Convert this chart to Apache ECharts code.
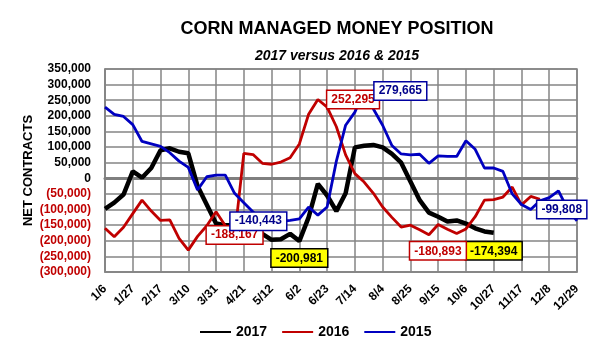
<!DOCTYPE html>
<html><head><meta charset="utf-8">
<script src="https://cdn.jsdelivr.net/npm/echarts@6/dist/echarts.min.js"></script>
<style>html,body{margin:0;padding:0;background:#fff}#c{width:605px;height:348px}</style>
</head><body><div id="c"></div>
<script>
// ---- data ----
const categories = ['1/6','1/13','1/20','1/27','2/3','2/10','2/17','2/24','3/3','3/10','3/17','3/24','3/31',
  '4/7','4/14','4/21','4/28','5/5','5/12','5/19','5/26','6/2','6/9','6/16','6/23','6/30','7/7','7/14','7/21',
  '7/28','8/4','8/11','8/18','8/25','9/1','9/8','9/15','9/22','9/29','10/6','10/13','10/20','10/27','11/3',
  '11/10','11/17','11/24','12/1','12/8','12/15','12/22','12/29'];
const net2017 = [-98000,-78000,-52000,22000,2000,33000,90000,96000,85000,80000,-25000,-85000,-145000,-150000,
  -150000,-155000,-165000,-178000,-197000,-195000,-178000,-200981,-125000,-18000,-55000,-105000,-48000,99000,
  104000,107000,99000,78000,50000,-10000,-70000,-110000,-123000,-138000,-135000,-145000,-160000,-170000,-174394];
const net2016 = [-160000,-187000,-157000,-113000,-70000,-105000,-135000,-133000,-192000,-230000,-186000,-152000,
  -107000,-152000,-188167,80000,76000,48000,45000,52000,66000,110000,205000,252295,228000,165000,75000,15000,
  -12000,-48000,-92000,-125000,-156000,-150000,-165000,-180893,-148000,-163000,-177000,-162000,-123000,-70000,
  -68000,-60000,-28000,-85000,-58000,-67000];
const net2015 = [228000,205000,198000,172000,118000,110000,102000,82000,55000,35000,-37000,5000,10000,10000,
  -48000,-78000,-108000,-140443,-138000,-138000,-135000,-130000,-92000,-118000,-92000,55000,170000,212000,279665,
  222000,170000,105000,78000,75000,77000,48000,72000,70000,70000,120000,93000,33000,33000,22000,-50000,-84000,
  -100000,-72000,-62000,-40000,-99808,-136000];
const yMin = -300000, yMax = 350000, yStep = 50000;
const seriesNames = ['2017','2016','2015'];
// indices of annotated points per series
const calloutIdx2017 = [21, 42];
const calloutIdx2016 = [23, 14, 35];
const calloutIdx2015 = [28, 17, 50];

// ---- styles ----
const FONT = "'Liberation Sans', Arial, sans-serif";
const RED = '#c00000', BLUE = '#0000c0';
const fmt = v => Number(v).toLocaleString('en-US');
const calloutStyle = {
  '2017|21': {position:'bottom', distance:8},
  '2017|42': {position:'bottom', distance:9},
  '2016|23': {position:'right', distance:9},
  '2016|14': {position:'inside', offset:[0,-2]},
  '2016|35': {position:'bottom', distance:7, offset:[9,0]},
  '2015|28': {position:'right', distance:10},
  '2015|17': {position:'inside', offset:[-4,-1]},
  '2015|50': {position:'inside', offset:[-6,0]}
};
const boxStyle = {
  '2017': {color:'#000', backgroundColor:'#ffff00', borderColor:'#000'},
  '2016': {color:RED, backgroundColor:'#fff', borderColor:RED},
  '2015': {color:'#00008b', backgroundColor:'#fff', borderColor:'#0000a0'}
};
function markers(name, values, idxs) {
  return {
    symbol: 'circle', symbolSize: 1, itemStyle: {color: 'rgba(0,0,0,0)'},
    silent: true, animation: false,
    label: Object.assign({show: true, formatter: p => fmt(p.value), fontFamily: FONT, fontSize: 12,
      fontWeight: 'bold', borderWidth: 1.5, padding: [3,4,2,4]}, boxStyle[name]),
    data: idxs.map(i => {
      const s = calloutStyle[name + '|' + i];
      return {coord: [i, values[i]], value: values[i],
        label: {position: s.position, distance: s.distance || 0, offset: s.offset || [0,0]}};
    })
  };
}

const chart = echarts.init(document.getElementById('c'), null, {renderer: 'canvas'});
chart.setOption({
  animation: false,
  backgroundColor: '#fff',
  title: {
    text: 'CORN MANAGED MONEY POSITION',
    subtext: '2017 versus 2016 & 2015',
    left: 337, textAlign: 'center', top: 20, itemGap: 11, padding: 0,
    textStyle: {fontFamily: FONT, fontSize: 18, fontWeight: 'bold', color: '#000'},
    subtextStyle: {fontFamily: FONT, fontSize: 14, fontWeight: 'bold', fontStyle: 'italic', color: '#000'}
  },
  legend: {
    data: seriesNames, left: 199, top: 325, padding: 0,
    itemWidth: 31, itemHeight: 12, itemGap: 14,
    itemStyle: {opacity: 0},
    textStyle: {fontFamily: FONT, fontSize: 14, fontWeight: 'bold', color: '#000'}
  },
  grid: {left: 105, right: 28, top: 69, bottom: 76, show: true, borderColor: '#858585', borderWidth: 1.5,
    containLabel: false, outerBoundsMode: 'none'},
  xAxis: [{
    type: 'category', data: categories, boundaryGap: false,
    axisLine: {onZero: false, lineStyle: {color: '#858585', width: 1.5}},
    axisTick: {show: false},
    axisLabel: {interval: 2, rotate: 45, margin: 15, fontFamily: FONT, fontSize: 12, fontWeight: 'bold', color: '#000'},
    splitLine: {show: true, interval: 2, lineStyle: {color: '#858585', width: 1.5}}
  }, {
    type: 'category', data: categories, boundaryGap: false, position: 'bottom',
    axisLine: {onZero: true, lineStyle: {color: '#7f7f7f', width: 3}},
    axisTick: {show: false}, axisLabel: {show: false}, splitLine: {show: false}
  }],
  yAxis: {
    type: 'value', min: yMin, max: yMax, interval: yStep,
    name: 'NET CONTRACTS', nameLocation: 'middle', nameGap: 70, nameRotate: 90, nameMoveOverlap: false,
    nameTextStyle: {fontFamily: FONT, fontSize: 13, fontWeight: 'bold', color: '#000'},
    axisLine: {show: true, lineStyle: {color: '#858585', width: 1.5}},
    axisTick: {show: false},
    axisLabel: {
      margin: 14, fontFamily: FONT, fontSize: 12, fontWeight: 'bold',
      formatter: v => v < 0 ? '(' + fmt(-v) + ')' : fmt(v),
      color: v => (Number(v) < 0 ? RED : '#000')
    },
    splitLine: {show: true, lineStyle: {color: '#858585', width: 1.5}}
  },
  series: [
    {name: '2017', type: 'line', data: net2017, symbol: 'none', z: 3,
      lineStyle: {color: '#000', width: 4.5}, itemStyle: {color: '#000'},
      markPoint: markers('2017', net2017, calloutIdx2017)},
    {name: '2016', type: 'line', data: net2016, symbol: 'none', z: 3,
      lineStyle: {color: RED, width: 2.8}, itemStyle: {color: RED},
      markPoint: markers('2016', net2016, calloutIdx2016)},
    {name: '2015', type: 'line', data: net2015, symbol: 'none', z: 3,
      lineStyle: {color: BLUE, width: 2.8}, itemStyle: {color: BLUE},
      markPoint: markers('2015', net2015, calloutIdx2015)}
  ]
});
</script></body></html>
